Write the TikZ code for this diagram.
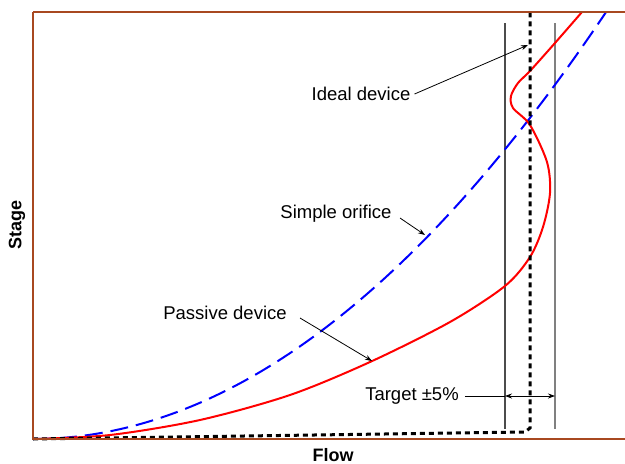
\documentclass[tikz,border=0pt]{standalone}
\usepackage{fontspec}
\setmainfont{Liberation Sans}
\usetikzlibrary{arrows.meta}
\definecolor{axisbrown}{RGB}{168,72,32}
\definecolor{curvered}{RGB}{255,0,0}
\definecolor{curveblue}{RGB}{0,0,255}
\tikzset{
  lbl/.style={inner sep=0pt, font=\fontsize{18.5}{20}\selectfont},
  axlbl/.style={inner sep=0pt, font=\fontsize{18}{20}\selectfont\bfseries},
  axisline/.style={draw=axisbrown, line width=2.6pt},
  pointer/.style={draw=black, line width=0.8pt, -{Stealth[length=7pt,width=5pt]}},
  bandline/.style={line width=1.2pt},
}
\begin{document}
\begin{tikzpicture}[x=1pt,y=-1pt]
\useasboundingbox (0,0) rectangle (625,464);
% tolerance band
\draw[bandline, draw=black!70] (505,23) -- (505,429);
\draw[bandline, draw=black!50, line width=1.6pt] (555,23) -- (555,429);
% simple orifice (parabola)
\draw[curveblue, line width=2pt, dash pattern=on 18pt off 8pt]
  plot[domain=0:573, samples=120] ({33+\x},{439-(0.036056*\x)^2});
% passive device
\draw[curvered, line width=2pt] plot[smooth, tension=0.5] coordinates {
  (33,439) (110,435) (200,420) (290,395) (370,362)
  (450,322) (505,286) (530,257) (543,227) (550,193)
  (547,162) (530,125) (513,108) (511,96) (518,83) (530,71) (555,43) (582,12)};
% ideal device
\draw[black, line width=3pt, dash pattern=on 5pt off 4pt]
  (33,439) -- (525,432) -- (530,428) -- (530,12);
% axes
\draw[axisline] (33,12) -- (625,12);
\draw[axisline] (33,439) -- (625,439);
\draw[axisline] (33,12) -- (33,440.3);
% labels
\node[lbl] (ideal) at (361,94) {Ideal device};
\node[lbl] (orifice) at (336,214) {Simple orifice};
\node[lbl] (passive) at (225,313) {Passive device};
\node[lbl] (target) at (412,396) {Target ±5\%};
\node[axlbl, rotate=90] (stage) at (17,225) {Stage};
\node[axlbl] (flow) at (333,455) {Flow};
% pointer coordinates
\coordinate (idealtip) at (528,45);
\coordinate (orificetip) at (425,235);
\coordinate (passivetip) at (372,361);
\coordinate (bandL) at (505,396);
\coordinate (bandR) at (555,396);
\draw[pointer] ([xshift=4pt]ideal.east) -- (idealtip);
\draw[pointer] (400,218) -- (orificetip);
\draw[pointer] (300,318) -- (passivetip);
\draw[black, line width=0.8pt] ([xshift=6pt]target.east) -- (bandL);
\draw[black, line width=0.8pt, {Stealth[length=7pt,width=5pt]}-{Stealth[length=7pt,width=5pt]}] (bandL) -- (bandR);
\end{tikzpicture}
\end{document}
